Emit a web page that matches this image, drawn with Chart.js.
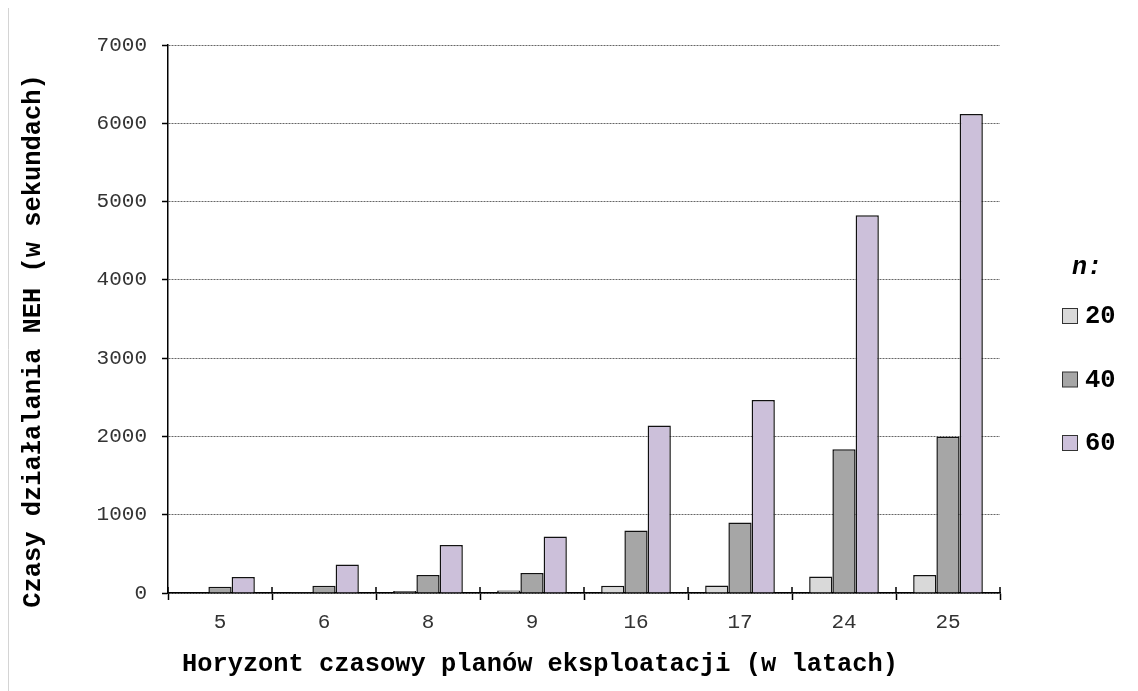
<!DOCTYPE html>
<html>
<head>
<meta charset="utf-8">
<script src="https://cdn.jsdelivr.net/npm/chart.js@4/dist/chart.umd.min.js"></script>
<style>
  html, body { margin: 0; padding: 0; background: #fff; }
  #wrap { width: 1138px; height: 691px; position: relative; }
</style>
</head>
<body>
<div id="wrap"><canvas id="c" width="1138" height="691"></canvas></div>
<script>
// Planning horizons (years) on the x axis
const categories = ['5', '6', '8', '9', '16', '17', '24', '25'];
// Series names (number of jobs n)
const seriesNames = ['20', '40', '60'];
// NEH running times in seconds
const times20 = [4, 10, 25, 33, 93, 95, 212, 230];
const times40 = [80, 93, 230, 255, 798, 900, 1836, 1995];
const times60 = [205, 365, 612, 722, 2140, 2465, 4825, 6120];
// Value axis ticks
const yTicks = [0, 1000, 2000, 3000, 4000, 5000, 6000, 7000];

const xTitle = 'Horyzont czasowy planów eksploatacji (w latach)';
const yTitle = 'Czasy działalania NEH (w sekundach)';
const legendTitle = 'n:';

const fills = ['#d9d9d9', '#a6a6a6', '#ccc0da'];
const mono = '"Liberation Mono", "Courier New", monospace';

// Axis titles, legend, crossing tick marks and the thin frame line on the left
const decorations = {
  id: 'decorations',
  beforeDraw(chart) {
    const ctx = chart.ctx;
    ctx.save();
    ctx.strokeStyle = '#d4d4d4';
    ctx.lineWidth = 1;
    ctx.beginPath();
    ctx.moveTo(8.5, 8);
    ctx.lineTo(8.5, 691);
    ctx.stroke();
    ctx.restore();
  },
  afterDraw(chart) {
    const ctx = chart.ctx;
    const xs = chart.scales.x;
    ctx.save();

    // upper half of the category separators, crossing the axis line
    ctx.strokeStyle = '#000';
    ctx.lineWidth = 1.5;
    ctx.beginPath();
    for (let i = 0; i <= categories.length; i++) {
      const px = xs.getPixelForValue(i - 0.5);
      ctx.moveTo(px, xs.top - 6);
      ctx.lineTo(px, xs.top);
    }
    ctx.stroke();

    ctx.fillStyle = '#000';
    ctx.font = 'bold 25.4px ' + mono;
    ctx.textAlign = 'center';
    ctx.textBaseline = 'middle';
    ctx.fillText(xTitle, 540, 665);
    ctx.save();
    ctx.translate(34, 341);
    ctx.rotate(-Math.PI / 2);
    ctx.fillText(yTitle, 0, 0);
    ctx.restore();

    ctx.font = 'bold italic 25px ' + mono;
    ctx.textAlign = 'left';
    ctx.fillText(legendTitle, 1072, 268);

    ctx.font = 'bold 25.5px ' + mono;
    chart.data.datasets.forEach((ds, i) => {
      const y = 316 + i * 63.5;
      ctx.fillStyle = ds.backgroundColor;
      ctx.fillRect(1062.5, y - 7.5, 15, 15);
      ctx.strokeStyle = '#333';
      ctx.lineWidth = 1;
      ctx.strokeRect(1062.5, y - 7.5, 15, 15);
      ctx.fillStyle = '#000';
      ctx.fillText(ds.label, 1085, y + 1);
    });
    ctx.restore();
  }
};

const seriesData = [times20, times40, times60];

new Chart(document.getElementById('c'), {
  type: 'bar',
  data: {
    labels: categories,
    datasets: seriesNames.map((name, i) => ({
      label: name,
      data: seriesData[i],
      backgroundColor: fills[i],
      borderColor: '#111',
      borderWidth: 1.5,
      categoryPercentage: 0.67,
      barPercentage: 1.0
    }))
  },
  options: {
    responsive: false,
    animation: false,
    devicePixelRatio: 1,
    layout: { padding: { left: 0, top: 45, right: 138, bottom: 0 } },
    plugins: {
      legend: { display: false },
      tooltip: { enabled: false }
    },
    scales: {
      x: {
        offset: true,
        grid: {
          offset: true,
          drawOnChartArea: false,
          drawTicks: true,
          tickLength: 7,
          tickColor: '#000',
          tickWidth: 1.5,
          color: '#000'
        },
        border: { display: true, color: '#000', width: 1.5 },
        ticks: {
          font: { family: mono, size: 21 },
          color: '#333',
          padding: 10,
          maxRotation: 0
        },
        afterFit(scale) { scale.height = 98; }
      },
      y: {
        min: 0,
        max: 7000,
        afterBuildTicks(scale) { scale.ticks = yTicks.map(v => ({ value: v })); },
        grid: {
          color: '#666',
          lineWidth: 1,
          tickLength: 6,
          tickColor: '#000',
          tickWidth: 1.5,
          tickBorderDash: []
        },
        border: { display: true, color: '#000', width: 1.5, dash: [2, 1] },
        ticks: {
          font: { family: mono, size: 21 },
          color: '#333',
          padding: 15,
          callback: (v) => String(v)
        },
        afterFit(scale) { scale.width = 168; }
      }
    }
  },
  plugins: [decorations]
});
</script>
</body>
</html>
